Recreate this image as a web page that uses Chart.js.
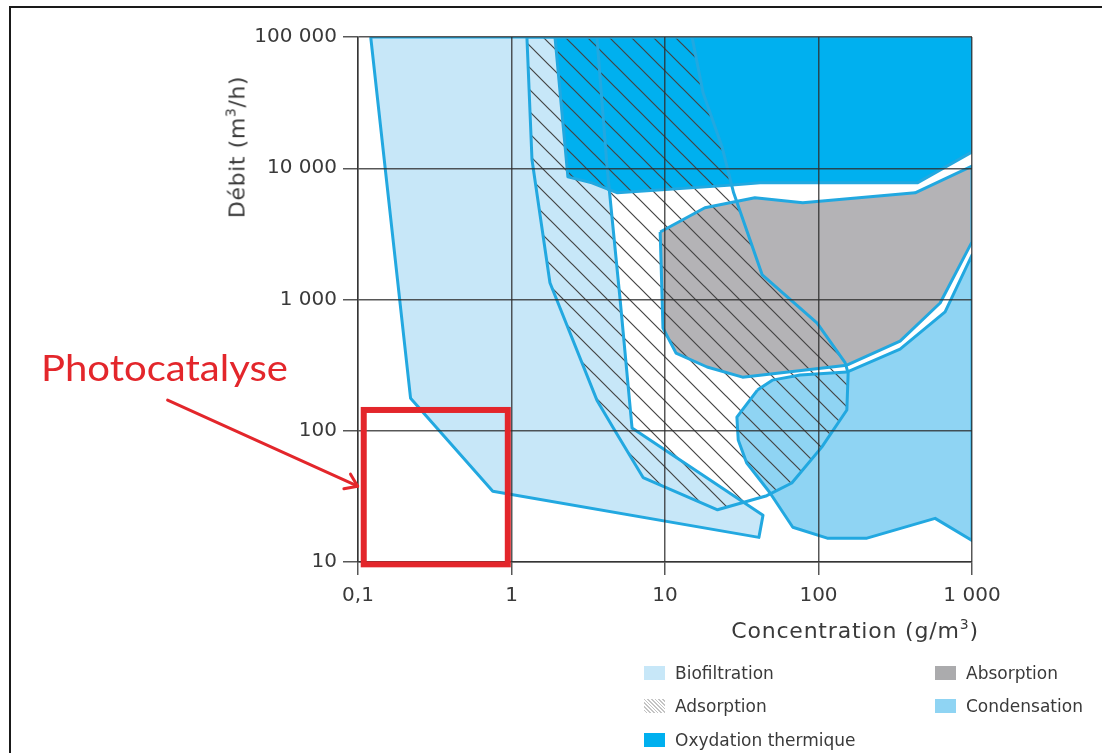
<!DOCTYPE html>
<html>
<head>
<meta charset="utf-8">
<script src="https://cdn.jsdelivr.net/npm/chart.js@4.4.1/dist/chart.umd.min.js"></script>
<style>
html,body{margin:0;padding:0;background:#fff;}
#wrap{position:relative;width:1102px;height:753px;overflow:hidden;font-family:"DejaVu Sans",sans-serif;color:#3a3a3a;}
#c{position:absolute;left:0;top:0;}
.frame{position:absolute;left:9px;top:6px;width:1200px;height:900px;border-left:2px solid #1a1a1a;border-top:2px solid #1a1a1a;}
.ytitle{position:absolute;left:237px;top:147px;transform:translate(-50%,-50%) rotate(-90deg);white-space:nowrap;font-size:22px;letter-spacing:0.6px;}
.xtitle{position:absolute;left:855px;top:630px;transform:translate(-50%,-50%);white-space:nowrap;font-size:22px;letter-spacing:0.8px;}
sup{font-size:14px;vertical-align:9px;line-height:0;}
.li{position:absolute;display:flex;align-items:center;height:20px;font-size:17px;white-space:nowrap;color:#3a3a3a;}
.sw{width:21px;height:14px;margin-right:10px;}
svg{position:absolute;left:0;top:0;}
</style>
</head>
<body>
<div id="wrap">
  <div class="frame"></div>
  <canvas id="c" width="1102" height="753"></canvas>
  <div class="ytitle">Débit (m<sup>3</sup>/h)</div>
  <div class="xtitle">Concentration (g/m<sup>3</sup>)</div>
  <div id="legend"></div>
  <svg width="1102" height="753"><text x="41" y="381" font-family="Lato" font-size="37" fill="#e3262b" textLength="247" lengthAdjust="spacingAndGlyphs">Photocatalyse</text></svg>
</div>
<script>
// ---- axis ticks ----
const xTicks = [0.1, 1, 10, 100, 1000];
const xTickLabels = ['0,1', '1', '10', '100', '1 000'];
const yTicks = [10, 100, 1000, 10000, 100000];
const yTickLabels = ['10', '100', '1 000', '10 000', '100 000'];

// ---- series names ----
const seriesNames = ['Biofiltration', 'Adsorption', 'Oxydation thermique', 'Absorption', 'Condensation'];

// ---- region outlines (concentration g/m3, débit m3/h) ----
const biofiltrationX = [0.121, 0.22, 0.755, 40.9, 43.5, 6.1, 5.1, 4.2, 3.6];
const biofiltrationY = [100000, 177, 34.6, 15.4, 22.7, 105, 1000, 10000, 100000];

const adsorptionX = [1.26, 1.36, 1.78, 3.6, 4.7, 7.2, 22, 46, 67, 105, 153, 156, 149, 98, 43, 28, 23.5, 17.7, 15];
const adsorptionY = [100000, 11600, 1340, 171, 101, 44, 25, 32, 40, 75, 144, 275, 330, 660, 1540, 6500, 14600, 37600, 100000];

const oxydationX = [1.92, 2.33, 3.34, 4.9, 28.6, 41.6, 440, 1000, 1000];
const oxydationY = [100000, 8600, 7740, 6500, 7470, 7740, 7740, 13300, 100000];

const absorptionX = [9.3, 18.2, 38.5, 79, 426, 1000, 1000, 620, 340, 153, 32, 18.8, 11.8, 9.7];
const absorptionY = [3270, 5000, 5950, 5450, 6500, 10400, 2750, 940, 482, 316, 256, 306, 390, 606];

const condensationX = [40, 50, 76, 153, 340, 668, 1000, 1000, 575, 207, 114, 68, 48, 34, 30, 29.4];
const condensationY = [204, 243, 266, 280, 419, 805, 2180, 14.6, 21.5, 15.2, 15.2, 18.4, 34, 57, 85, 127];

// ---- photocatalyse annotation ----
const photoBoxX = [0.109, 0.946];
const photoBoxY = [9.6, 144];
const arrowX = [0.00575, 0.0995];
const arrowY = [171, 37.8];

const edge = '#22a8e0';
const colBio = '#c7e7f8', colOxy = '#00b0ef', colAbs = '#b4b3b6', colCond = '#8fd4f3';
const gridColor = 'rgba(45,45,45,0.8)';
const red = '#e3262b';

function hatch(size, color, width) {
  const c = document.createElement('canvas');
  c.width = size; c.height = size;
  const g = c.getContext('2d');
  g.strokeStyle = color; g.lineWidth = width;
  g.beginPath();
  g.moveTo(-2, -2); g.lineTo(size + 2, size + 2);
  g.moveTo(-2, size - 2); g.lineTo(2, size + 2);
  g.moveTo(size - 2, -2); g.lineTo(size + 2, 2);
  g.stroke();
  return g.createPattern(c, 'repeat');
}

function pts(xs, ys) {
  const p = xs.map((x, i) => ({x: x, y: ys[i]}));
  p.push({x: xs[0], y: ys[0]});
  return p;
}

function region(label, xs, ys, fillStyle, order) {
  return {
    label: label, data: pts(xs, ys), fill: 'shape', backgroundColor: fillStyle,
    borderColor: edge, borderWidth: 3, pointRadius: 0, pointHoverRadius: 0,
    tension: 0, borderJoinStyle: 'round', order: order
  };
}

const datasets = [
  region(seriesNames[0], biofiltrationX, biofiltrationY, colBio, 5),
  region(seriesNames[2], oxydationX, oxydationY, colOxy, 4),
  region(seriesNames[3], absorptionX, absorptionY, colAbs, 3),
  region(seriesNames[4], condensationX, condensationY, colCond, 2),
  region(seriesNames[1], adsorptionX, adsorptionY, hatch(22, '#444', 1.2), 1)
];

const photoPlugin = {
  id: 'photo',
  afterDraw(chart) {
    const {ctx} = chart; const sx = chart.scales.x, sy = chart.scales.y;
    const x0 = sx.getPixelForValue(photoBoxX[0]), x1 = sx.getPixelForValue(photoBoxX[1]);
    const y0 = sy.getPixelForValue(photoBoxY[0]), y1 = sy.getPixelForValue(photoBoxY[1]);
    ctx.save();
    ctx.strokeStyle = red; ctx.lineWidth = 6; ctx.lineJoin = 'miter';
    ctx.strokeRect(x0, y1, x1 - x0, y0 - y1);
    const ax = sx.getPixelForValue(arrowX[0]), ay = sy.getPixelForValue(arrowY[0]);
    const bx = sx.getPixelForValue(arrowX[1]), by = sy.getPixelForValue(arrowY[1]);
    const ang = Math.atan2(by - ay, bx - ax);
    ctx.lineWidth = 3; ctx.lineCap = 'round'; ctx.lineJoin = 'round';
    ctx.beginPath(); ctx.moveTo(ax, ay); ctx.lineTo(bx, by); ctx.stroke();
    ctx.beginPath();
    const L = 14, a = 35 * Math.PI / 180;
    ctx.moveTo(bx + L * Math.cos(ang + Math.PI - a), by + L * Math.sin(ang + Math.PI - a));
    ctx.lineTo(bx, by);
    ctx.lineTo(bx + L * Math.cos(ang + Math.PI + a), by + L * Math.sin(ang + Math.PI + a));
    ctx.stroke();
    ctx.restore();
  }
};

const tickFont = {family: 'DejaVu Sans', size: 20};

new Chart(document.getElementById('c'), {
  type: 'line',
  data: {datasets: datasets},
  options: {
    responsive: false, animation: false, events: [],
    layout: {padding: {left: 0, top: 37, right: 130, bottom: 0}},
    plugins: {legend: {display: false}, tooltip: {enabled: false}, filler: {drawTime: 'beforeDatasetsDraw'}},
    scales: {
      x: {
        type: 'logarithmic', min: xTicks[0], max: xTicks[xTicks.length - 1],
        afterBuildTicks: s => { s.ticks = xTicks.map(v => ({value: v})); },
        afterFit: s => { s.height = 191; },
        ticks: {callback: (v, i) => xTickLabels[i], font: tickFont, color: '#3a3a3a', padding: 9, maxRotation: 0, autoSkip: false},
        grid: {color: gridColor, lineWidth: 1.5, tickLength: 13, z: 1},
        border: {color: gridColor, width: 1.5, z: 1}
      },
      y: {
        type: 'logarithmic', min: yTicks[0], max: yTicks[yTicks.length - 1],
        afterBuildTicks: s => { s.ticks = yTicks.map(v => ({value: v})); },
        afterFit: s => { s.width = 358; },
        ticks: {callback: (v, i) => yTickLabels[i], font: tickFont, color: '#3a3a3a', padding: 6, autoSkip: false},
        grid: {color: gridColor, lineWidth: 1.5, tickLength: 15, z: 1},
        border: {color: gridColor, width: 1.5, z: 1}
      }
    }
  },
  plugins: [photoPlugin]
});

// ---- legend ----
const legendItems = [
  {name: seriesNames[0], left: 644, top: 663, bg: colBio},
  {name: seriesNames[1], left: 644, top: 696, bg: 'repeating-linear-gradient(45deg,#fff 0 1.5px,#c4c4c4 1.5px 2.6px)'},
  {name: seriesNames[2], left: 644, top: 730, bg: colOxy},
  {name: seriesNames[3], left: 935, top: 663, bg: '#ababad'},
  {name: seriesNames[4], left: 935, top: 696, bg: colCond}
];
const lg = document.getElementById('legend');
legendItems.forEach(it => {
  const d = document.createElement('div');
  d.className = 'li'; d.style.left = it.left + 'px'; d.style.top = it.top + 'px';
  const s = document.createElement('div'); s.className = 'sw'; s.style.background = it.bg;
  const t = document.createElement('span'); t.textContent = it.name;
  d.appendChild(s); d.appendChild(t); lg.appendChild(d);
});
</script>
</body>
</html>
